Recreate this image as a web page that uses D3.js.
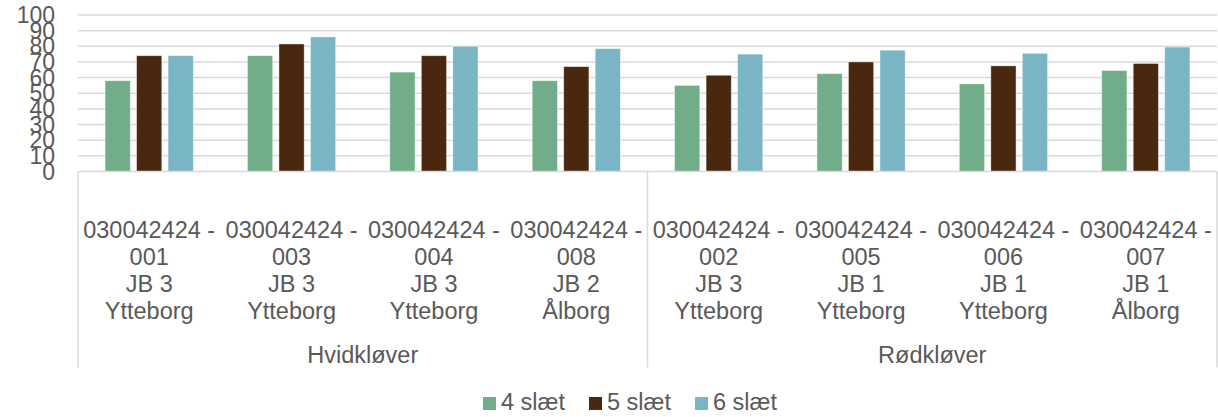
<!DOCTYPE html>
<html>
<head>
<meta charset="utf-8">
<script src="https://cdn.jsdelivr.net/npm/d3@7"></script>
<style>
  html, body { margin: 0; padding: 0; background: #fff; }
  svg text { font-family: "Liberation Sans", Arial, sans-serif; fill: #595959; }
</style>
</head>
<body>
<div id="chart"></div>
<script>
// data
const groups = ["Hvidkløver", "Rødkløver"];
const categories = [
  ["030042424 -", "001", "JB 3", "Ytteborg"],
  ["030042424 -", "003", "JB 3", "Ytteborg"],
  ["030042424 -", "004", "JB 3", "Ytteborg"],
  ["030042424 -", "008", "JB 2", "Ålborg"],
  ["030042424 -", "002", "JB 3", "Ytteborg"],
  ["030042424 -", "005", "JB 1", "Ytteborg"],
  ["030042424 -", "006", "JB 1", "Ytteborg"],
  ["030042424 -", "007", "JB 1", "Ålborg"]
];
const categoryGroup = [0, 0, 0, 0, 1, 1, 1, 1];
const seriesNames = ["4 slæt", "5 slæt", "6 slæt"];
const slaet4 = [58, 74, 63.5, 58, 55, 62.5, 56, 64.5];
const slaet5 = [74, 81.5, 74, 67, 61.5, 70, 67.5, 69];
const slaet6 = [74, 86, 80, 78.5, 75, 77.5, 75.5, 79.5];
const seriesValues = [slaet4, slaet5, slaet6];
const colors = ["#70ad88", "#4a2810", "#7ab5c6"];
const yTicks = [0, 10, 20, 30, 40, 50, 60, 70, 80, 90, 100];

const W = 1218, H = 417;
const margin = {top: 15, left: 78, right: 1, bottom: 245.5};
const plotW = W - margin.left - margin.right;
const plotH = H - margin.top - margin.bottom;

const svg = d3.select("#chart").append("svg")
    .attr("width", W).attr("height", H);

const g = svg.append("g")
    .attr("transform", "translate(" + margin.left + "," + margin.top + ")");

const x = d3.scaleBand().domain(d3.range(categories.length)).range([0, plotW]).padding(0);
const y = d3.scaleLinear().domain([0, 100]).range([plotH, 0]);
const groupW = 94.5;
const xInner = d3.scaleBand().domain(d3.range(seriesNames.length))
    .range([-groupW / 2, groupW / 2]).paddingInner(0.2).paddingOuter(0.1);

// gridlines
g.append("g").selectAll("line")
    .data(yTicks.filter(d => d > 0))
    .join("line")
    .attr("x1", 0).attr("x2", plotW)
    .attr("y1", d => y(d)).attr("y2", d => y(d))
    .attr("stroke", "#d9d9d9").attr("stroke-width", 1.5);

// y labels (they overlap in the original too)
g.append("g").selectAll("text")
    .data(yTicks)
    .join("text")
    .attr("x", -23)
    .attr("y", d => y(d))
    .attr("dy", "0.35em")
    .attr("text-anchor", "end")
    .style("font-size", "23px")
    .text(d => d);

// bars
seriesValues.forEach((vals, s) => {
  g.append("g").selectAll("rect")
      .data(vals)
      .join("rect")
      .attr("x", (d, i) => x(i) + x.bandwidth() / 2 + xInner(s))
      .attr("width", xInner.bandwidth())
      .attr("y", d => y(d))
      .attr("height", d => y(0) - y(d))
      .attr("fill", colors[s])
      .attr("stroke", "#ffffff").attr("stroke-opacity", 0.5).attr("stroke-width", 0.8);
});

// x axis line and group separators
g.append("line")
    .attr("x1", 0).attr("x2", plotW)
    .attr("y1", plotH).attr("y2", plotH)
    .attr("stroke", "#d9d9d9").attr("stroke-width", 1.5);

const sepX = [0, x(4), plotW];
g.append("g").selectAll("line")
    .data(sepX)
    .join("line")
    .attr("x1", d => d).attr("x2", d => d)
    .attr("y1", plotH).attr("y2", plotH + 196)
    .attr("stroke", "#d9d9d9").attr("stroke-width", 1.5);

// category labels
const lineH = 27;
const catG = g.append("g").selectAll("text")
    .data(categories)
    .join("text")
    .attr("text-anchor", "middle")
    .attr("transform", (d, i) => "translate(" + (x(i) + x.bandwidth() / 2) + "," + (plotH + 66) + ")")
    .style("font-size", "23.5px");
catG.selectAll("tspan")
    .data(d => d)
    .join("tspan")
    .attr("x", 0)
    .attr("y", (d, j) => j * lineH)
    .text(d => d);

// group labels
g.append("g").selectAll("text")
    .data(groups)
    .join("text")
    .attr("text-anchor", "middle")
    .attr("x", (d, k) => {
      const idx = categoryGroup.map((c, i) => c === k ? i : -1).filter(i => i >= 0);
      return (x(idx[0]) + x(idx[idx.length - 1]) + x.bandwidth()) / 2;
    })
    .attr("y", plotH + 191)
    .style("font-size", "23.5px")
    .text(d => d);

// legend
const legendX = [483, 589, 695];
const legend = svg.append("g").selectAll("g")
    .data(seriesNames)
    .join("g")
    .attr("transform", (d, i) => "translate(" + legendX[i] + ",397)");
legend.append("rect")
    .attr("width", 13).attr("height", 13)
    .attr("fill", (d, i) => colors[i]);
legend.append("text")
    .attr("x", 18).attr("y", 13)
    .style("font-size", "23.5px")
    .text(d => d);
</script>
</body>
</html>
